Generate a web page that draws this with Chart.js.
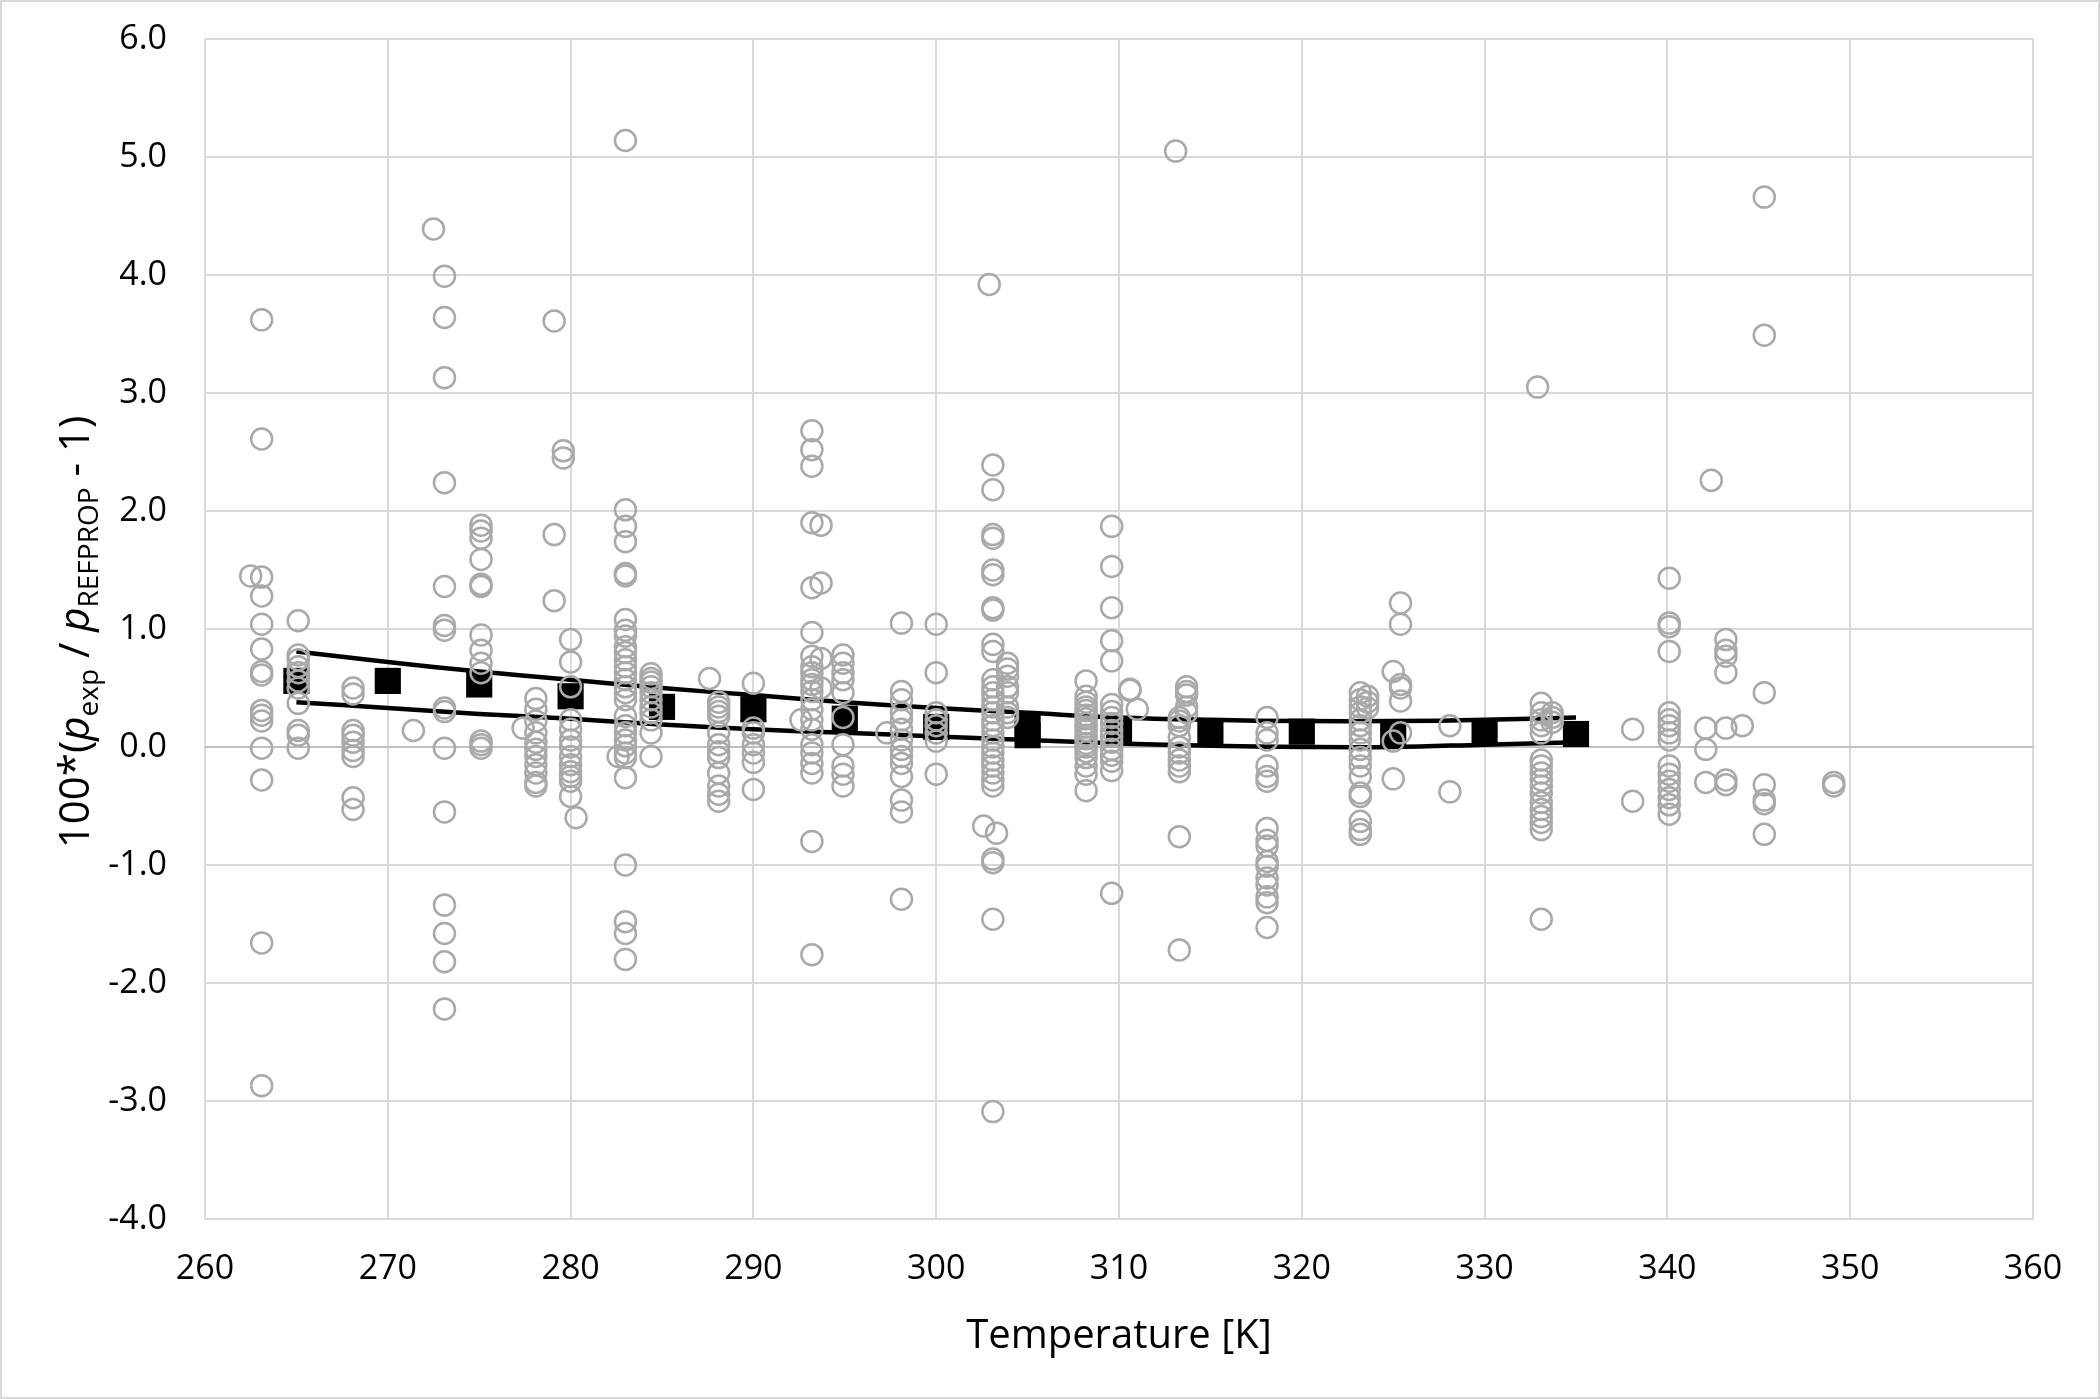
<!DOCTYPE html>
<html>
<head>
<meta charset="utf-8">
<script src="https://cdn.jsdelivr.net/npm/chart.js@4.4.1/dist/chart.umd.min.js"></script>
<style>
html, body { margin: 0; padding: 0; background: #ffffff; }
#wrap { width: 2100px; height: 1399px; position: relative; }
canvas { display: block; }
</style>
</head>
<body>
<div id="wrap"><canvas id="c" width="2100" height="1399" style="width:2100px;height:1399px"></canvas></div>
<script>
// ---- Data ----
// Experimental deviations (grey open circles): temperatures and the deviations measured at each
const expTemps = [262.5, 263.1, 265.1, 268.1, 271.4, 272.5, 273.1, 275.1, 277.4, 278.1, 279.1, 279.6, 280.0, 280.3, 282.6, 283.0, 284.4, 287.6, 288.1, 290.0, 292.6, 293.2, 293.7, 294.9, 297.3, 298.1, 300.0, 302.6, 302.9, 303.1, 303.3, 303.9, 308.2, 309.6, 310.6, 311.0, 313.1, 313.3, 313.7, 318.1, 323.2, 323.6, 325.0, 325.4, 328.1, 332.9, 333.1, 333.7, 338.1, 340.1, 342.1, 342.4, 343.2, 344.1, 345.3, 349.1];
const expDevs = [
  [1.45],
  [3.62, 2.61, 1.44, 1.28, 1.04, 0.83, 0.64, 0.61, 0.31, 0.27, 0.22, -0.01, -0.28, -1.66, -2.87],
  [1.07, 0.78, 0.74, 0.68, 0.63, 0.56, 0.50, 0.37, 0.14, 0.10, -0.01],
  [0.50, 0.45, 0.14, 0.10, 0.04, -0.03, -0.08, -0.43, -0.53],
  [0.14],
  [4.39],
  [3.99, 3.64, 3.13, 2.24, 1.36, 1.03, 0.99, 0.33, 0.30, -0.01, -0.55, -1.34, -1.58, -1.82, -2.22],
  [1.88, 1.83, 1.77, 1.59, 1.38, 1.36, 0.95, 0.82, 0.71, 0.63, 0.05, 0.02, -0.01],
  [0.16],
  [0.41, 0.32, 0.22, 0.12, 0.04, -0.02, -0.08, -0.15, -0.22, -0.30, -0.33],
  [3.61, 1.80, 1.24],
  [2.51, 2.45],
  [0.91, 0.72, 0.51, 0.23, 0.15, 0.06, 0.00, -0.08, -0.15, -0.21, -0.25, -0.29, -0.42],
  [-0.60],
  [-0.08],
  [5.14, 2.01, 1.87, 1.74, 1.47, 1.45, 1.08, 0.99, 0.94, 0.85, 0.80, 0.74, 0.68, 0.63, 0.57, 0.51, 0.46, 0.40, 0.26, 0.18, 0.12, 0.06, 0.01, -0.05, -0.09, -0.26, -1.00, -1.48, -1.58, -1.80],
  [0.62, 0.58, 0.55, 0.51, 0.46, 0.40, 0.34, 0.29, 0.23, 0.12, -0.08],
  [0.58],
  [0.38, 0.34, 0.30, 0.26, 0.12, 0.02, -0.04, -0.09, -0.22, -0.33, -0.40, -0.46],
  [0.54, 0.16, 0.12, 0.02, -0.05, -0.13, -0.36],
  [0.23],
  [2.68, 2.52, 2.38, 1.90, 1.35, 0.97, 0.77, 0.68, 0.63, 0.57, 0.53, 0.47, 0.40, 0.32, 0.23, 0.15, 0.02, -0.05, -0.14, -0.22, -0.80, -1.76],
  [1.88, 1.39, 0.75, 0.50],
  [0.78, 0.71, 0.63, 0.57, 0.46, 0.25, 0.02, -0.16, -0.23, -0.33],
  [0.12],
  [1.05, 0.47, 0.40, 0.29, 0.23, 0.15, 0.06, -0.02, -0.08, -0.14, -0.25, -0.45, -0.55, -1.29],
  [1.04, 0.63, 0.29, 0.23, 0.18, 0.12, 0.05, -0.23],
  [-0.67],
  [3.92],
  [2.39, 2.18, 1.80, 1.77, 1.50, 1.46, 1.18, 1.16, 0.87, 0.81, 0.57, 0.51, 0.46, 0.40, 0.34, 0.29, 0.23, 0.18, 0.12, 0.06, 0.00, -0.05, -0.11, -0.16, -0.22, -0.28, -0.33, -0.95, -0.98, -1.46, -3.09],
  [-0.73],
  [0.71, 0.66, 0.60, 0.51, 0.46, 0.34, 0.29, 0.25],
  [0.56, 0.43, 0.38, 0.34, 0.31, 0.27, 0.24, 0.20, 0.17, 0.14, 0.10, 0.07, 0.03, 0.00, -0.04, -0.09, -0.16, -0.23, -0.37],
  [1.87, 1.53, 1.18, 0.90, 0.73, 0.36, 0.30, 0.25, 0.20, 0.14, 0.09, 0.04, -0.02, -0.07, -0.12, -0.20, -1.24],
  [0.49, 0.48],
  [0.32],
  [5.05],
  [0.25, 0.22, 0.18, 0.08, 0.00, -0.05, -0.11, -0.16, -0.21, -0.76, -1.72],
  [0.51, 0.47, 0.44, 0.34, 0.29],
  [0.25, 0.12, 0.06, -0.16, -0.25, -0.29, -0.69, -0.79, -0.84, -0.97, -1.01, -1.11, -1.17, -1.27, -1.32, -1.53],
  [0.46, 0.40, 0.34, 0.29, 0.23, 0.18, 0.12, 0.06, -0.02, -0.09, -0.16, -0.25, -0.39, -0.42, -0.63, -0.70, -0.74],
  [0.43, 0.38, 0.33],
  [0.64, 0.05, -0.27],
  [1.22, 1.04, 0.53, 0.50, 0.39, 0.12],
  [0.18, -0.38],
  [3.05],
  [0.37, 0.29, 0.23, 0.18, 0.12, -0.11, -0.16, -0.22, -0.28, -0.33, -0.39, -0.47, -0.53, -0.59, -0.64, -0.70, -1.46],
  [0.29, 0.25, 0.21],
  [0.15, -0.46],
  [1.43, 1.05, 1.02, 0.81, 0.29, 0.23, 0.18, 0.12, 0.06, -0.16, -0.23, -0.29, -0.36, -0.43, -0.49, -0.57],
  [0.16, -0.02, -0.30],
  [2.26],
  [0.91, 0.82, 0.77, 0.63, 0.16, -0.28, -0.32],
  [0.18],
  [4.66, 3.49, 0.46, -0.32, -0.45, -0.48, -0.74],
  [-0.30, -0.33]
];

// Black squares
const fitTemps = [265, 270, 275, 280, 285, 290, 295, 300, 305, 305, 310, 315, 320, 325, 330, 335];
const fitDevs  = [0.56, 0.56, 0.53, 0.43, 0.34, 0.32, 0.24, 0.17, 0.18, 0.10, 0.14, 0.12, 0.13, 0.12, 0.12, 0.11];

// Black band lines (upper and lower)
const bandTemps = [265, 270, 275, 280, 285, 290, 295, 300, 305, 310, 315, 320, 325, 330, 335];
const upperDevs = [0.81, 0.72, 0.64, 0.57, 0.50, 0.44, 0.38, 0.33, 0.29, 0.25, 0.23, 0.22, 0.22, 0.23, 0.25];
const lowerDevs = [0.38, 0.33, 0.28, 0.24, 0.19, 0.15, 0.12, 0.09, 0.06, 0.03, 0.01, 0.00, 0.00, 0.02, 0.04];

// Axis ticks
const xTickValues = [260, 270, 280, 290, 300, 310, 320, 330, 340, 350, 360];
const yTickValues = [-4, -3, -2, -1, 0, 1, 2, 3, 4, 5, 6];
const xAxisTitle = 'Temperature [K]';

// ---- Build datasets ----
const expPoints = [];
expTemps.forEach((t, i) => expDevs[i].forEach(v => expPoints.push({ x: t, y: v })));
const fitPoints = fitTemps.map((t, i) => ({ x: t, y: fitDevs[i] }));
const upperPoints = bandTemps.map((t, i) => ({ x: t, y: upperDevs[i] }));
const lowerPoints = bandTemps.map((t, i) => ({ x: t, y: lowerDevs[i] }));

const FONT = '"Open Sans", "Noto Sans", "DejaVu Sans", sans-serif';

const bgPlugin = {
  id: 'bg',
  beforeDraw(chart) {
    const ctx = chart.ctx;
    ctx.save();
    ctx.fillStyle = '#ffffff';
    ctx.fillRect(0, 0, chart.width, chart.height);
    ctx.strokeStyle = '#D9D9D9';
    ctx.lineWidth = 2;
    ctx.strokeRect(1, 1, chart.width - 2, chart.height - 2);
    ctx.restore();
  }
};

const yTitlePlugin = {
  id: 'yTitle',
  afterDraw(chart) {
    const ctx = chart.ctx;
    const main = 42, sub = 28;
    const segs = [
      { t: '100*(', f: `${main}px ${FONT}`, dy: 0 },
      { t: 'p', f: `italic ${main}px ${FONT}`, dy: 0 },
      { t: 'exp', f: `${sub}px ${FONT}`, dy: 9 },
      { t: ' / ', f: `${main}px ${FONT}`, dy: 0 },
      { t: 'p', f: `italic ${main}px ${FONT}`, dy: 0 },
      { t: 'REFPROP', f: `${sub}px ${FONT}`, dy: 9 },
      { t: ' - 1)', f: `${main}px ${FONT}`, dy: 0 }
    ];
    ctx.save();
    let total = 0;
    segs.forEach(s => { ctx.font = s.f; s.w = ctx.measureText(s.t).width; total += s.w; });
    const cy = (chart.chartArea.top + chart.chartArea.bottom) / 2 + 3;
    ctx.translate(74, cy);
    ctx.rotate(-Math.PI / 2);
    ctx.fillStyle = '#000000';
    ctx.textBaseline = 'alphabetic';
    ctx.textAlign = 'left';
    let u = -total / 2;
    const base = 15;
    segs.forEach(s => { ctx.font = s.f; ctx.fillText(s.t, u, base + s.dy); u += s.w; });
    ctx.restore();
  }
};

new Chart(document.getElementById('c'), {
  type: 'scatter',
  data: {
    datasets: [
      {
        label: 'Experimental',
        data: expPoints,
        pointStyle: 'circle',
        pointRadius: 10.5,
        pointBorderWidth: 2.5,
        pointBorderColor: '#A9A9A9',
        pointBackgroundColor: 'rgba(0,0,0,0)',
        order: 0
      },
      {
        label: 'Mean',
        data: fitPoints,
        pointStyle: 'rect',
        pointRadius: 18.5,
        pointBorderWidth: 0,
        pointBorderColor: '#000000',
        pointBackgroundColor: '#000000',
        order: 1
      },
      {
        label: 'Upper',
        data: upperPoints,
        showLine: true,
        pointRadius: 0,
        borderColor: '#000000',
        borderWidth: 4.5,
        tension: 0.4,
        fill: false,
        order: 2
      },
      {
        label: 'Lower',
        data: lowerPoints,
        showLine: true,
        pointRadius: 0,
        borderColor: '#000000',
        borderWidth: 4.5,
        tension: 0.4,
        fill: false,
        order: 2
      }
    ]
  },
  options: {
    responsive: false,
    animation: false,
    devicePixelRatio: 1,
    layout: { padding: { left: 0, top: 39, right: 67, bottom: 0 } },
    plugins: {
      legend: { display: false },
      tooltip: { enabled: false },
      title: { display: false }
    },
    scales: {
      x: {
        type: 'linear',
        min: xTickValues[0],
        max: xTickValues[xTickValues.length - 1],
        afterBuildTicks: (scale) => { scale.ticks = xTickValues.map(v => ({ value: v })); },
        afterFit: (scale) => { scale.height = 180; scale.paddingLeft = 0; scale.paddingRight = 0; },
        ticks: {
          font: { family: FONT, size: 34 },
          color: '#000000',
          padding: 30,
          maxRotation: 0,
          callback: (v) => String(v)
        },
        grid: { color: '#D9D9D9', lineWidth: 2, drawTicks: false },
        border: { display: false },
        title: {
          display: true,
          text: xAxisTitle,
          color: '#000000',
          font: { family: FONT, size: 40 },
          padding: { top: 0, bottom: 38 }
        }
      },
      y: {
        type: 'linear',
        min: yTickValues[0],
        max: yTickValues[yTickValues.length - 1],
        afterBuildTicks: (scale) => { scale.ticks = yTickValues.map(v => ({ value: v })); },
        afterFit: (scale) => { scale.width = 205; scale.paddingTop = 0; scale.paddingBottom = 0; },
        ticks: {
          font: { family: FONT, size: 34 },
          color: '#000000',
          padding: 38,
          callback: (v) => Number(v).toFixed(1)
        },
        grid: {
          color: (c) => (c.tick && c.tick.value === 0 ? '#BFBFBF' : '#D9D9D9'),
          lineWidth: 2,
          drawTicks: false
        },
        border: { display: false },
        title: { display: false }
      }
    }
  },
  plugins: [bgPlugin, yTitlePlugin]
});
</script>
</body>
</html>
